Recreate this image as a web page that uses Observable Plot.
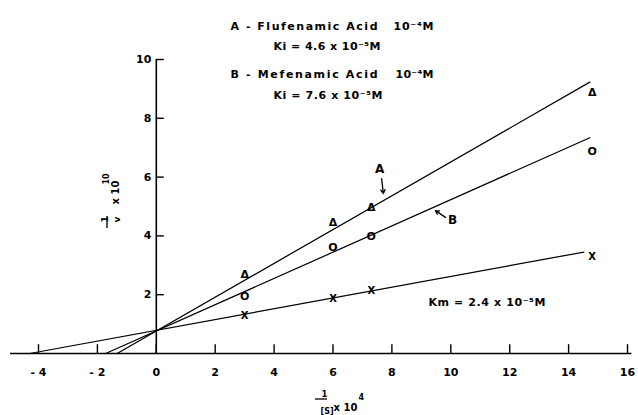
<!DOCTYPE html>
<html>
<head>
<meta charset="utf-8">
<script src="https://cdn.jsdelivr.net/npm/d3@7"></script>
<script src="https://cdn.jsdelivr.net/npm/@observablehq/plot@0.6"></script>
<style>
  html, body { margin: 0; padding: 0; background: white; }
</style>
</head>
<body>
<div id="chart"></div>
<script>
// ---- data ----
const xTicks = [-4, -2, 0, 2, 4, 6, 8, 10, 12, 14, 16];
const xTickLabels = ["- 4", "- 2", "0", "2", "4", "6", "8", "10", "12", "14", "16"];
const yTicks = [2, 4, 6, 8, 10];
const yTickLabels = ["2", "4", "6", "8", "10"];

const invS = [3, 6, 7.3, 14.8];                 // 1/[S] x 10^4
const seriesA = [2.69, 4.46, 4.97, 8.88];       // Flufenamic acid (Δ)
const seriesB = [1.94, 3.61, 3.98, 6.87];       // Mefenamic acid (O)
const seriesC = [1.29, 1.87, 2.14, 3.30];       // control (X)

// fitted lines (end points)
const lineAx = [-1.33, 14.72], lineAy = [0, 9.23];
const lineBx = [-1.72, 14.72], lineBy = [0, 7.34];
const lineCx = [-4.30, 14.52], lineCy = [0, 3.45];

// annotations in data units
const labelNames = ["A", "B"];
const labelX = [7.58, 10.06], labelY = [6.26, 4.52];
const arrowX1 = [7.65, 9.82], arrowY1 = [5.95, 4.63];
const arrowX2 = [7.71, 9.48], arrowY2 = [5.44, 4.86];
const kmText = "Km = 2.4 x 10\u207B\u2075M";
const kmX = 9.24, kmY = 1.73;

const headerTexts = ["A - Flufenamic Acid", "10\u207B\u2074M", "Ki = 4.6 x 10\u207B\u2075M",
                     "B - Mefenamic Acid", "10\u207B\u2074M", "Ki = 7.6 x 10\u207B\u2075M"];

// ---- layout (pixels) ----
const ML = 38, MT = 59;
const FONT = "DejaVu Sans";
const headerPos = [[230, 22, 147], [393, 22, 40], [273, 42, 107], [230, 70, 147], [395, 70, 38], [273, 91, 109]];

const px = (txt, x, y, opts = {}) =>
  Plot.text([txt], {frameAnchor: "top-left", dx: x - ML, dy: y - MT, text: d => d,
    fontSize: 10, fontWeight: "bold", ...opts});

const pts = (ys, glyph, size) =>
  Plot.text(ys.map((v, i) => ({x: invS[i], y: v})), {x: "x", y: "y", text: () => glyph,
    fontSize: size, fontWeight: "bold"});

const line = (xs, ys) =>
  Plot.line(xs.map((v, i) => ({x: v, y: ys[i]})), {x: "x", y: "y", stroke: "black", strokeWidth: 1.25});

const chart = Plot.plot({
  width: 638,
  height: 415,
  marginLeft: ML,
  marginRight: 11,
  marginTop: MT,
  marginBottom: 62,
  x: {domain: [-4, 16], axis: null},
  y: {domain: [0, 10], axis: null},
  style: {background: "white", fontFamily: FONT, color: "black", overflow: "visible"},
  marks: [
    // axes
    Plot.ruleY([0], {x1: -4.95, x2: 16.15, stroke: "black", strokeWidth: 1.6}),
    Plot.ruleX([0], {y1: 0, y2: 10, stroke: "black", strokeWidth: 1.6}),
    Plot.ruleX(xTicks, {x: d => d, y1: 0, y2: 0.3, stroke: "black", strokeWidth: 1.4}),
    Plot.ruleY(yTicks, {y: d => d, x1: 0, x2: 0.27, stroke: "black", strokeWidth: 1.4}),
    Plot.text(xTicks, {x: d => d, y: 0, text: (d, i) => xTickLabels[i], dy: 19, fontSize: 11, fontWeight: "bold"}),
    Plot.text(yTicks, {x: 0, y: d => d, text: (d, i) => yTickLabels[i], dx: -5, textAnchor: "end", fontSize: 11, fontWeight: "bold"}),

    // fitted lines
    line(lineAx, lineAy),
    line(lineBx, lineBy),
    line(lineCx, lineCy),

    // data points
    pts(seriesA, "\u0394", 11),
    pts(seriesB, "O", 11),
    pts(seriesC, "X", 10),

    // line labels and arrows
    Plot.text(labelNames, {x: (d, i) => labelX[i], y: (d, i) => labelY[i], text: d => d, fontSize: 12, fontWeight: "bold"}),
    Plot.arrow(labelNames, {x1: (d, i) => arrowX1[i], y1: (d, i) => arrowY1[i], x2: (d, i) => arrowX2[i], y2: (d, i) => arrowY2[i],
      stroke: "black", strokeWidth: 1.3, headLength: 5}),
    Plot.text([kmText], {x: kmX, y: kmY, text: d => d, textAnchor: "start", fontSize: 11, fontWeight: "bold"}),

    // header
    ...headerTexts.map((t, i) => px(t, headerPos[i][0], headerPos[i][1], {textAnchor: "start", fontSize: 11})),

    // y axis label: (1/v) x 10^10, rotated
    px("1", 101, 222, {rotate: -90, fontSize: 9}),
    px("v", 113, 222, {rotate: -90, fontSize: 9}),
    px("x 10", 111, 204, {rotate: -90, fontSize: 10}),
    px("10", 103, 184, {rotate: -90, fontSize: 8}),

    // x axis label: (1/[S]) x 10^4
    px("1", 321, 390, {fontSize: 8.5}),
    px("[S]", 320, 408, {fontSize: 8}),
    px("x 10", 333, 403, {textAnchor: "start", fontSize: 10}),
    px("4", 358, 394, {textAnchor: "start", fontSize: 8})
  ]
});

// stretch lettering to the widths of the reference lettering
const svg = d3.select(chart);
const allText = svg.selectAll("text").nodes();
const used = new Set();
const stretch = (content, width) => {
  const node = allText.find(n => !used.has(n) && n.textContent === content);
  if (node) {
    used.add(node);
    node.setAttribute("textLength", width);
    node.setAttribute("lengthAdjust", "spacing");
  }
};
headerTexts.forEach((t, i) => stretch(t, headerPos[i][2]));
stretch(kmText, 117);

// fraction bars of the axis labels
svg.append("line").attr("x1", 315).attr("x2", 327).attr("y1", 399).attr("y2", 399)
  .attr("stroke", "black").attr("stroke-width", 1.3);
svg.append("line").attr("x1", 107).attr("x2", 107).attr("y1", 216).attr("y2", 228)
  .attr("stroke", "black").attr("stroke-width", 1.3);

document.getElementById("chart").appendChild(chart);
</script>
</body>
</html>
